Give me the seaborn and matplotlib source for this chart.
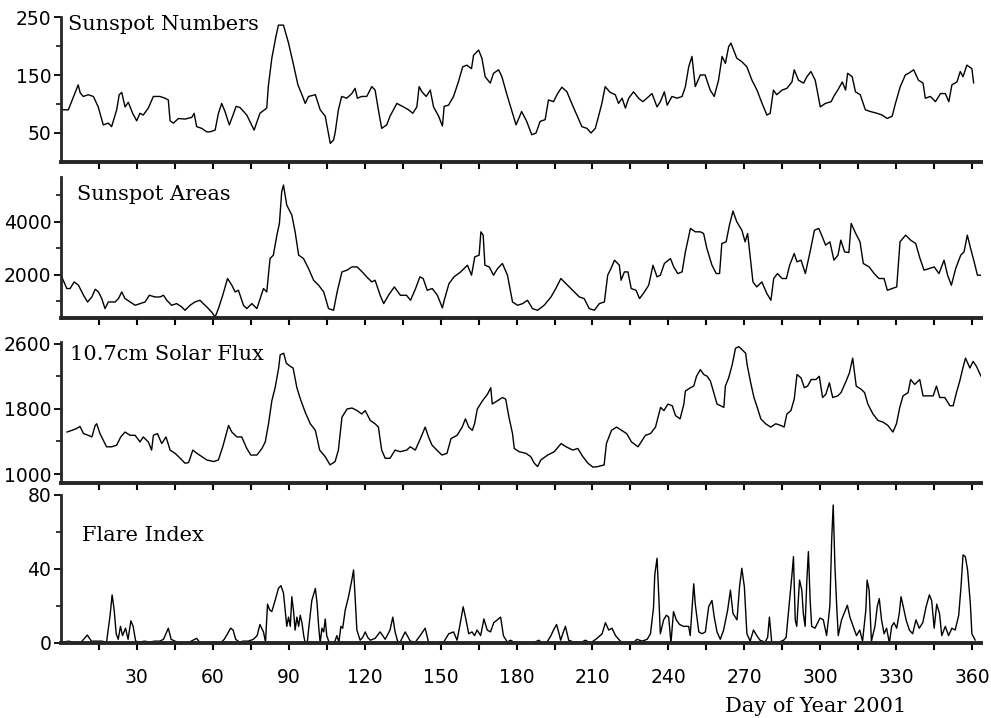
import matplotlib
matplotlib.use("Agg")
import matplotlib.pyplot as plt
import seaborn as sns

# --- data (day of year, value) ---
number_days = [0.3, 2.9, 6.8, 7.6, 8.8, 10.8, 12.8, 14.7, 16.7, 18.7, 20, 22, 23, 24, 25.3, 26.6, 28.3, 29.9,
               31.2, 32.5, 34.5, 36.5, 39.1, 41.1, 42.4, 43.1, 44.4, 46.4, 49, 51.7, 52.6, 53.6, 55.6, 57.6,
               58.9, 60.9, 62.2, 63.5, 64.8, 66.5, 67.8, 69.2, 70.7, 73.4, 76.3, 78.6, 81.3, 81.9, 83.3, 84.9,
               85.9, 87.9, 89.9, 91.9, 93.6, 95.2, 96.5, 97.8, 100.5, 102.4, 104.4, 106.4, 107.7, 108.3, 109.6,
               110.9, 112.9, 114.9, 116.2, 117.1, 118.8, 120.8, 122.8, 124.1, 125.4, 126.7, 128.7, 130, 132.7,
               135.3, 137.3, 139, 140.6, 141.5, 142.6, 144.3, 145.9, 147.2, 149.2, 150.7, 151.4, 153.1, 155.1,
               157, 158.7, 160.3, 162.2, 163, 165, 166.3, 167.6, 169.6, 170.9, 172.9, 174.2, 176.2, 178.2,
               179.8, 182, 184, 186, 187.7, 189.3, 191.3, 192.6, 194.6, 196.2, 197.9, 199.9, 201.8, 203.8,
               205.8, 207.8, 209.4, 211.1, 212.4, 213.7, 215, 217, 219, 220.3, 221.7, 223, 224.3, 226.2, 228.2,
               229.9, 231.5, 233.5, 235.5, 236.8, 238.4, 239.5, 241.4, 243.4, 245.4, 246.7, 248, 249.3, 250.6,
               252.6, 254.5, 256.5, 258.1, 259.8, 261.2, 262.5, 263.8, 264.7, 267, 269, 271, 273, 275, 277,
               278.9, 280.2, 281.5, 282.8, 284.9, 286.8, 288.8, 289.7, 291.4, 293.4, 294.7, 296.3, 298, 300,
               302, 304.3, 305.3, 306.9, 308.7, 310, 310.8, 312.6, 313.9, 315.8, 317.8, 319.8, 322.4, 324.4,
               326.4, 328.4, 329.7, 331.6, 333.6, 334.9, 336.9, 338.8, 340.6, 341.5, 343.5, 345.5, 347.5,
               349.4, 350.8, 352, 354, 355.3, 356.4, 357.9, 359.9, 360.6]
sunspot_numbers = [90, 90, 133, 119, 113, 116, 113, 95, 64, 67, 61, 90, 116, 120, 95, 103, 84, 71,
                   84, 81, 93, 113, 113, 110, 107, 71, 67, 75, 74, 77, 84, 61, 58, 52,
                   52, 55, 84, 101, 87, 64, 79, 96, 94, 81, 55, 84, 93, 130, 179, 216,
                   236, 236, 205, 167, 133, 116, 101, 113, 116, 90, 79, 32, 38, 50, 90,
                   113, 110, 118, 127, 110, 113, 113, 130, 124, 90, 58, 64, 79, 101,
                   95, 90, 84, 95, 130, 121, 113, 124, 95, 79, 62, 96, 98, 113,
                   138, 164, 167, 161, 184, 193, 179, 147, 136, 153, 159, 147, 116, 87,
                   64, 87, 70, 47, 50, 70, 73, 107, 104, 118, 129, 121, 101, 81,
                   61, 58, 50, 58, 79, 101, 130, 120, 116, 101, 110, 93, 110, 121, 110,
                   104, 110, 118, 95, 104, 121, 98, 113, 110, 113, 130, 164, 182, 130,
                   150, 150, 124, 113, 141, 182, 170, 199, 205, 179, 173, 164, 141, 124, 101,
                   81, 84, 124, 116, 124, 127, 138, 159, 141, 136, 147, 156, 141, 95,
                   101, 104, 113, 124, 138, 124, 153, 147, 121, 116, 90, 87, 84, 81,
                   75, 79, 101, 130, 150, 153, 159, 141, 136, 110, 113, 104, 118,
                   118, 104, 133, 138, 156, 147, 167, 161, 136]

area_days = [0.3, 2.3, 3.6, 5.2, 6.9, 8.9, 10.5, 12.2, 13.5, 14.8, 16.1, 17.4, 18.7, 21.4, 22.7, 24, 25.3,
             27.3, 29.3, 31.2, 33.2, 34.9, 37.1, 39.1, 40.5, 41.8, 43.7, 45.7, 47.7, 49, 51, 52.9, 54.9, 56.2,
             57.6, 59.5, 60.9, 62.2, 63.9, 65.8, 67.5, 68.8, 70.1, 72.1, 73.4, 75.4, 77.4, 78.7, 80, 81.3,
             82.6, 83.9, 85.3, 86.3, 87.2, 87.9, 89.2, 91.2, 92.5, 93.9, 95.8, 97.8, 99.8, 101.8, 103.8,
             105.7, 107.7, 109.1, 111, 113, 115, 117, 119, 120.8, 122.8, 124.1, 126.1, 127.5, 129.4, 131.7,
             134.1, 136.5, 138.1, 140.1, 141.8, 143.1, 144.7, 146.7, 148.7, 150.7, 151.6, 153.3, 155.3,
             157.9, 160.6, 162.2, 163.5, 165.2, 165.9, 166.8, 167.5, 169.2, 170.9, 172.5, 174.4, 176.4,
             178.4, 180.4, 182.4, 184.3, 186.3, 188.3, 190.9, 193.6, 195.5, 197.5, 199.5, 202.1, 204.8,
             206.7, 208.7, 210.7, 212.7, 214.7, 216, 217.3, 218.7, 220.6, 221.3, 222.6, 224, 225.3, 227.2,
             228.6, 230.5, 232.2, 233.9, 235.5, 236.8, 238.4, 240.8, 242.1, 243.7, 245.4, 246.7, 248.7,
             250.6, 252.6, 253.9, 255.2, 257.2, 258.9, 260.2, 261.1, 262.8, 264.1, 265.5, 267, 269, 270.3,
             271.3, 273.4, 274.9, 276.9, 278.9, 280.5, 281.6, 283.1, 284.9, 286.6, 287.9, 289.7, 290.8,
             292.4, 294.1, 296.1, 297.7, 299.4, 300.8, 302.1, 303.8, 305.4, 307, 308.1, 309.6, 311.3, 312.2,
             314, 315.7, 317, 319.3, 321.3, 323.2, 325.2, 326.5, 328.4, 330.2, 331.5, 333.7, 335.7, 337.7,
             339.4, 341, 343, 345, 346.9, 348.9, 350.3, 351.8, 353.5, 355.5, 356.8, 358.1, 359.4, 360.8,
             362.1, 363.4]
sunspot_areas = [1910, 1468, 1468, 1719, 1593, 1213, 958, 1148, 1441, 1339, 1087, 707, 958, 958, 1087, 1339, 1087,
                 958, 833, 896, 958, 1213, 1148, 1148, 1213, 1023, 833, 896, 770, 643, 833, 958, 1023, 896,
                 770, 578, 388, 707, 1213, 1848, 1593, 1339, 1403, 833, 707, 896, 707, 1087, 1468, 1339,
                 2608, 2734, 3494, 3940, 5140, 5395, 4635, 4255, 3620, 2734, 2608, 2228, 1783, 1593, 1339,
                 707, 643, 1339, 2099, 2165, 2289, 2289, 2099, 1910, 1719, 1783, 1213, 896, 1213, 1530,
                 1213, 1213, 1023, 1468, 1910, 1848, 1403, 1468, 1213, 733, 1087, 1656, 1910,
                 2099, 2353, 1974, 2670, 2734, 3620, 3494, 2353, 2289, 1974, 2228, 2418, 1974,
                 958, 833, 896, 1023, 707, 643, 833, 1148, 1468, 1848, 1656, 1403, 1148,
                 1087, 707, 643, 896, 958, 1974, 2228, 2544, 2353, 1783, 2099, 2099, 1468, 1403,
                 1087, 1339, 1593, 2353, 1910, 1974, 2418, 2608, 2289, 2036, 2099, 2859, 3749,
                 3620, 3620, 3557, 2987, 2353, 2036, 2036, 3177, 3240, 3874, 4407, 4000, 3684, 3240,
                 3557, 1719, 1530, 1719, 1276, 1023, 1848, 2036, 1848, 1848, 2353, 2796, 2481,
                 2544, 2036, 2923, 3684, 3749, 3430, 3113, 3240, 2544, 2734, 3303, 2859, 2834, 3939,
                 3557, 3240, 2418, 2289, 2036, 1848, 1848, 1403, 1468, 1530, 3240, 3494, 3303, 3177,
                 2608, 2165, 2228, 2289, 2036, 2544, 1974, 1593, 2228, 2734, 2859, 3494, 2987, 2481,
                 1974, 1974]

flux_days = [2.3, 4.3, 6, 7.5, 8.9, 10.8, 12.2, 13.5, 14.1, 15.4, 16.7, 18, 20, 22, 23.6, 25.3, 27.3, 29.3,
             31.2, 32.5, 34.5, 35.8, 36.5, 38.1, 39.8, 41.5, 43.1, 45.1, 47.1, 49, 50.4, 52.1, 53.7, 55.7,
             57.6, 60.3, 62.2, 63.9, 66.2, 67.5, 69.5, 71.4, 73.4, 75, 77.4, 79.4, 80.7, 82, 83.3, 84.6, 86,
             86.6, 88, 89, 90.6, 91.7, 93.2, 94.6, 96.5, 98.5, 100.5, 102.2, 104.4, 106.3, 108.3, 109.6, 111,
             113, 115, 117, 118.8, 120.2, 122.2, 124.1, 125.4, 126.7, 128.1, 130, 132, 134, 136.6, 138, 140,
             142, 143.9, 145.2, 146.6, 148.5, 150.5, 152.5, 154.1, 156.5, 158.5, 159.8, 161.1, 162.5, 163.4,
             164.5, 166.5, 168.5, 169.8, 170.4, 172.4, 174.4, 175.7, 177, 178.4, 179.1, 181, 183.7, 185.6,
             187, 188.3, 189.6, 192.3, 194.9, 197.6, 199.6, 202.2, 204.2, 206.2, 208.2, 210.2, 212.2, 214.6,
             215.5, 217.5, 219.5, 221.5, 223.5, 225.4, 228, 230.9, 232.9, 234.9, 236.9, 238.2, 239.8, 241.5,
             242.8, 244.6, 246.1, 246.7, 248.7, 250, 251.1, 252.6, 254, 255.3, 256.6, 257.9, 259.2, 260.6,
             261.9, 262.5, 263.8, 265.2, 266.5, 267.8, 269.2, 270.5, 271.1, 272.5, 273.8, 275.1, 276.5,
             278.4, 280.4, 282.4, 284.4, 285.7, 286.8, 288.4, 289.7, 290.8, 292.4, 293.7, 295, 296.4, 298.3,
             299.6, 300.9, 302.2, 303.6, 304.9, 306.9, 308.2, 310.2, 311.5, 312.8, 314.2, 316.2, 317.5,
             318.8, 320.8, 322.8, 324.8, 326.7, 328.7, 330.1, 331.4, 332.7, 334.7, 335.7, 337.3, 339.3,
             340.6, 342.6, 344.6, 345.9, 347.2, 349.2, 351.2, 352.5, 353.8, 355.1, 356.5, 357.4, 359.1,
             360.4, 361.7, 363.5]
solar_flux = [1515, 1536, 1556, 1584, 1496, 1475, 1455, 1596, 1617, 1496, 1415, 1334, 1334, 1354, 1455, 1515, 1475, 1475,
              1394, 1455, 1394, 1294, 1475, 1496, 1374, 1455, 1294, 1254, 1193, 1133, 1140, 1294, 1254, 1213,
              1173, 1153, 1173, 1334, 1596, 1515, 1455, 1455, 1314, 1233, 1233, 1314, 1394, 1617, 1898, 2059, 2301,
              2463, 2482, 2361, 2321, 2301, 2059, 1919, 1757, 1617, 1536, 1294, 1213, 1112, 1153, 1294, 1696,
              1798, 1810, 1778, 1737, 1778, 1657, 1617, 1576, 1294, 1193, 1193, 1294, 1274, 1294, 1334, 1294,
              1435, 1576, 1455, 1354, 1294, 1233, 1254, 1435, 1475, 1576, 1677, 1576, 1536, 1617,
              1798, 1898, 1979, 2059, 1859, 1898, 1939, 1919, 1696, 1496, 1314, 1274, 1254, 1213,
              1133, 1092, 1173, 1233, 1274, 1374, 1334, 1294, 1314, 1213, 1133, 1084, 1092, 1112,
              1374, 1536, 1576, 1536, 1496, 1394, 1334, 1475, 1496, 1576, 1818, 1778, 1859, 1838,
              1717, 1677, 1859, 2019, 2059, 2079, 2200, 2281, 2220, 2200, 2140, 1999, 1859, 1838,
              1818, 2079, 2180, 2341, 2543, 2563, 2523, 2482, 2341, 2120, 1939, 1818, 1677,
              1617, 1576, 1617, 1596, 1576, 1737, 1778, 1919, 2220, 2180, 2059, 2079, 2160, 2160,
              2200, 1939, 1979, 2120, 1939, 1959, 1999, 2140, 2240, 2422, 2079, 2039, 1999,
              1859, 1737, 1657, 1637, 1596, 1515, 1617, 1818, 1959, 1999, 2160, 2099, 2160,
              1959, 1959, 1959, 2079, 1939, 1939, 1838, 1838, 1999, 2140, 2321, 2422, 2301,
              2382, 2321, 2200]

flare_days = [1, 3, 4.5, 6, 8, 10.4, 12, 14, 16, 18, 19.4, 20.2, 21, 21.8, 22.6, 23.5, 24.3, 25.5, 26.5, 27.6,
              28.5, 29.5, 31, 33, 35, 37, 39, 40.5, 42.4, 43.5, 45, 47, 50, 53.6, 55, 60, 63, 64.5, 65.8, 67,
              68, 69, 70.5, 72, 74, 76, 77.5, 78.6, 79.3, 80, 80.8, 81.6, 82.4, 83.3, 84.6, 85.9, 86.9, 87.9,
              88.6, 89.2, 89.9, 90.6, 91.2, 91.9, 92.5, 93.2, 93.9, 94.5, 95.2, 95.9, 96.5, 97.3, 97.8, 99.1,
              100.5, 101.2, 101.8, 102.4, 103.1, 103.8, 104.4, 105, 106, 108, 109, 109.8, 110.6, 111.3, 112.3,
              113.6, 114.9, 115.6, 116.2, 116.9, 118.2, 119.2, 120.2, 121.2, 122.2, 124.1, 126.1, 128.1, 130,
              131.1, 132, 133, 134, 136, 138, 140, 141.9, 143.9, 145.2, 148, 151.2, 153.2, 155.1, 156.5, 157.8,
              158.9, 159.8, 161.1, 162.4, 163.4, 164.4, 165.8, 167.1, 168.4, 169.7, 171, 172.4, 173.7, 174.8,
              176.3, 177.6, 179.6, 184, 186.5, 188.8, 190.1, 192, 193.4, 194.6, 195.8, 196.8, 197.4, 198.5,
              199.3, 200.6, 202.6, 205, 207.2, 209.2, 211.8, 213.8, 215.1, 216.4, 217.7, 219.1, 221, 222.4,
              226, 227.6, 229.6, 231.6, 232.9, 234.1, 234.6, 235.5, 236.2, 236.8, 238.1, 239.2, 240.1, 241,
              242, 243.1, 244.4, 246, 248, 248.6, 250, 250.6, 252, 253.3, 254.6, 255.9, 257.2, 258.1, 259.2,
              260.5, 261.8, 263.4, 264.5, 265.5, 267.1, 268.1, 269, 270, 271, 272.3, 273.6, 274.9, 276.2,
              278.2, 279.2, 279.9, 280.8, 282.8, 285.5, 286.5, 287.4, 288.8, 289.4, 290.1, 290.7, 291.8,
              292.7, 293.3, 294, 294.7, 295.3, 296, 296.6, 297.9, 299.9, 301.2, 302.5, 303.2, 303.8, 304.5,
              305.1, 305.8, 306.5, 307.1, 308.4, 309.7, 310.7, 311.7, 313, 314.3, 315.6, 316.7, 318, 318.5,
              319.3, 320.2, 321.6, 322.5, 323.3, 324.2, 325.2, 326.2, 327.3, 328.2, 329.1, 330.2, 331.2,
              331.9, 332.8, 333.9, 335.2, 336.5, 337.8, 339.1, 340.5, 341.8, 343.1, 344, 345, 346, 347.1,
              348, 349.4, 350.7, 352, 353.3, 354.7, 355.6, 356.4, 357.3, 358.2, 359.3, 359.9, 361.2]
flare_index = [0.5, 1, 0.5, 0, 0.5, 4.3, 1, 1, 1, 0.5, 15, 26, 18, 5, 2, 9, 4, 8, 2, 12,
               9, 1, 0.5, 1, 0.5, 1, 1, 2, 8, 2, 1, 0, 0, 2.5, 0, 0, 0, 2, 5, 8,
               7, 2, 0.5, 1, 1, 2, 4, 10, 8, 6, 0.5, 21, 18, 17, 23, 29.5, 31, 27,
               17, 9, 14, 9, 25, 17, 7, 14, 9, 15, 11, 4, 0, 0, 7, 23,
               29.5, 21, 9, 0, 8, 6, 13, 4, 0, 0, 4, 0.5, 9, 8, 17.8,
               25, 34, 39.5, 25, 7, 1.5, 3, 6, 3, 1.5, 2.5, 6, 2, 7,
               14, 6, 1, 0.5, 6, 1, 0.5, 4, 8, 0.5, 0, 0.5, 5, 6, 1.5, 11,
               19.6, 14, 5, 6, 4, 7, 4, 13, 7, 6, 11, 12.5, 14, 4,
               0.5, 1.5, 0, 0, 0, 1.5, 0, 0.5, 3.5, 7, 10, 5, 1.5, 6,
               9, 1.5, 0.5, 0, 1.5, 0, 2.5, 5, 11, 7, 8, 4, 1, 0,
               0, 2, 1, 2, 5, 18.9, 36.8, 45.8, 25, 5, 12.5, 15, 14, 0,
               17, 12.5, 10, 9, 9, 4, 32, 21, 6, 5, 6, 19.6, 23, 14, 6,
               2, 7, 17.8, 28.6, 16, 12.5, 30.4, 40.4, 30.4, 5, 1, 7, 4, 1.5,
               0.5, 3, 14, 0.5, 0, 1.5, 3, 16, 36.8, 46.7, 12.5, 9, 34,
               28.6, 16, 9, 34, 49.4, 23, 9, 8, 13.5, 12.5, 4, 12.5, 20.4, 55.7,
               74.6, 41, 19.6, 4, 12.5, 17, 20.4, 14, 9, 4, 7, 1, 17.8, 34,
               28.6, 1, 9, 19.6, 24, 12.5, 5, 8, 0, 9, 11, 8, 16,
               25, 19.6, 12.5, 7, 5, 12.5, 8, 11, 19.6, 26, 23, 8, 21, 16,
               4, 9, 4, 8, 7, 15, 30.4, 47.6, 46.7, 39.5, 21, 5, 1.5]

panel_titles = ["Sunspot Numbers", "Sunspot Areas", "10.7cm Solar Flux", "Flare Index"]
y_major = [[50, 150, 250], [2000, 4000], [1000, 1800, 2600], [0, 40, 80]]
y_minor = [[100, 200], [1000, 3000, 5000], [1400, 2200], [20, 60]]
y_limits = [(0, 250), (350, 5700), (890, 2620), (0, 80)]
day_ticks = list(range(30, 361, 30))
day_minor = list(range(15, 361, 30))

sns.set_theme(style="ticks")
plt.rcParams['font.family'] = ['DejaVu Sans']

W, H = 991, 718
fig = plt.figure(figsize=(W / 100, H / 100), dpi=100)

# panel boxes in pixels: (top, bottom)
boxes = [(17, 162), (177, 318), (342, 483), (495, 643)]
title_pos = [(68, 30), (77, 200), (70, 360), (82, 541)]
series = [(number_days, sunspot_numbers), (area_days, sunspot_areas),
          (flux_days, solar_flux), (flare_days, flare_index)]

for i, (top, bot) in enumerate(boxes):
    ax = fig.add_axes([61 / W, 1 - bot / H, (981 - 61) / W, (bot - top) / H])
    x, y = series[i]
    sns.lineplot(x=x, y=y, ax=ax, color="black", linewidth=1.0, estimator=None, sort=False)
    ax.set_xlim(0, 363.5)
    ax.set_ylim(*y_limits[i])
    ax.set_yticks(y_major[i])
    ax.set_yticks(y_minor[i], minor=True)
    ax.set_xticks(day_ticks)
    ax.set_xticks(day_minor, minor=True)
    if i == 3:
        ax.set_xticklabels([str(d) for d in day_ticks])
    else:
        ax.set_xticklabels([])
    ax.set_xlabel("")
    ax.set_ylabel("")
    for s in ["top", "right"]:
        ax.spines[s].set_visible(False)
    ax.spines["left"].set_linewidth(2.0)
    ax.spines["bottom"].set_linewidth(2.8)
    ax.tick_params(axis="y", which="major", direction="out", length=5, width=1.3,
                   labelsize=13.5, pad=2, colors="black")
    ax.tick_params(axis="y", which="minor", direction="out", length=3.5, width=1.3)
    ax.tick_params(axis="x", which="both", direction="out", length=5, width=1.5,
                   labelsize=13.5, pad=13, colors="black")
    ax.patch.set_alpha(0)

    tx, ty = title_pos[i]
    fig.text(tx / W, 1 - ty / H, panel_titles[i], family="DejaVu Serif",
             fontsize=15, ha="left", va="baseline", color="black")

fig.text(816 / W, 1 - 712 / H, "Day of Year 2001", family="DejaVu Serif",
         fontsize=15, ha="center", va="baseline", color="black")

fig.savefig("out.png", dpi=100, facecolor="white")
